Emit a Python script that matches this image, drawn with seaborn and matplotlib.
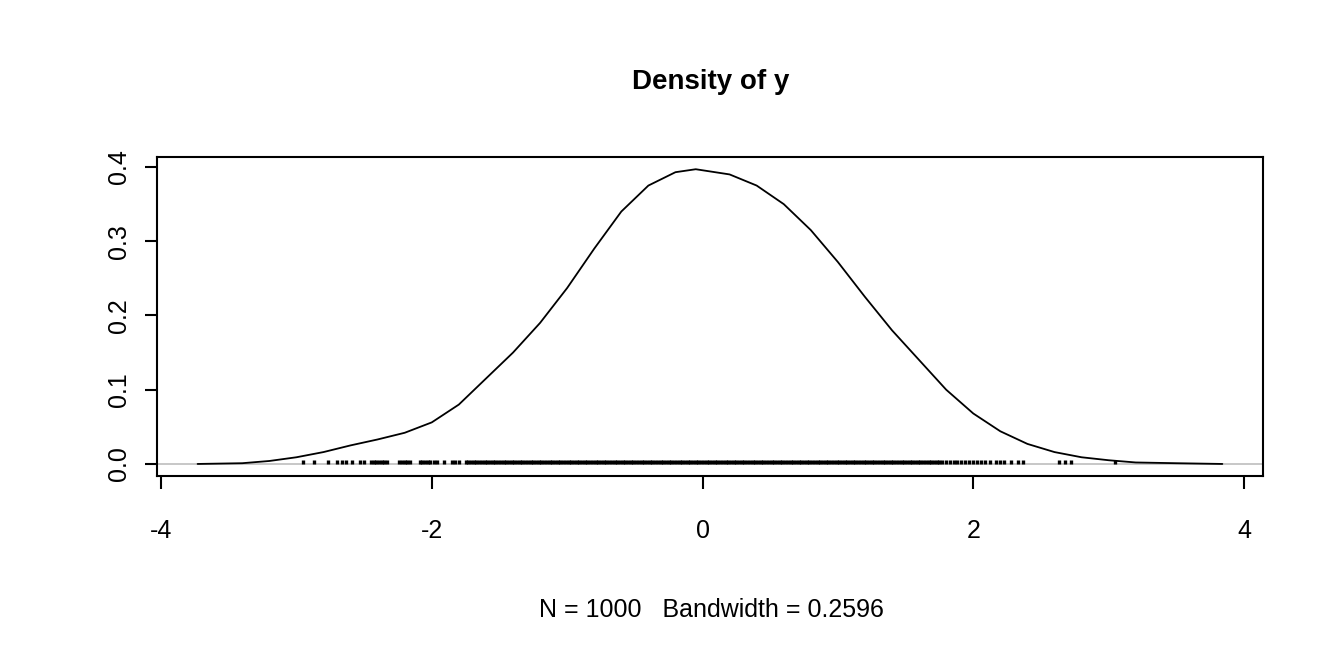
import numpy as np
import matplotlib
matplotlib.use("Agg")
from matplotlib import pyplot as plt
import seaborn as sns

# density curve
dens_x = [-3.73, -3.4, -3.2, -3.0, -2.8, -2.6, -2.4, -2.2, -2.0, -1.8, -1.6, -1.4,
          -1.2, -1.0, -0.8, -0.6, -0.4, -0.2, -0.05, 0.2, 0.4, 0.6, 0.8, 1.0, 1.2,
          1.4, 1.6, 1.8, 2.0, 2.2, 2.4, 2.6, 2.8, 3.0, 3.2, 3.5, 3.84]
dens_y = [0.0, 0.001, 0.004, 0.009, 0.016, 0.025, 0.033, 0.042, 0.056, 0.08, 0.115, 0.15,
          0.19, 0.237, 0.29, 0.34, 0.375, 0.393, 0.397, 0.39, 0.375, 0.35, 0.315, 0.272, 0.225,
          0.18, 0.14, 0.1, 0.068, 0.044, 0.027, 0.016, 0.009, 0.005, 0.002, 0.001, 0.0]

# rug positions (tails read individually, dense middle)
rug_left = [-2.95, -2.87, -2.77, -2.70, -2.66, -2.63, -2.59, -2.53, -2.50,
            -2.45, -2.43, -2.41, -2.39, -2.37, -2.35, -2.33, -2.24, -2.22, -2.20,
            -2.18, -2.16, -2.09, -2.07, -2.05, -2.03, -2.01, -1.98, -1.96, -1.91,
            -1.85, -1.83, -1.80, -1.75, -1.73, -1.71, -1.69, -1.67, -1.65, -1.63,
            -1.61, -1.59, -1.57, -1.55, -1.53, -1.51, -1.49]
rug_mid = [-1.47, -1.45, -1.43, -1.41, -1.39, -1.37, -1.35, -1.33, -1.31, -1.29,
           -1.27, -1.25, -1.23, -1.21, -1.19, -1.17, -1.15, -1.13, -1.11, -1.09,
           -1.07, -1.05, -1.03, -1.01, -0.99, -0.97, -0.95, -0.93, -0.91, -0.89,
           -0.87, -0.85, -0.83, -0.81, -0.79, -0.77, -0.75, -0.73, -0.71, -0.69,
           -0.67, -0.65, -0.63, -0.61, -0.59, -0.57, -0.55, -0.53, -0.51, -0.49,
           -0.47, -0.45, -0.43, -0.41, -0.39, -0.37, -0.35, -0.33, -0.31, -0.29,
           -0.27, -0.25, -0.23, -0.21, -0.19, -0.17, -0.15, -0.13, -0.11, -0.09,
           -0.07, -0.05, -0.03, -0.01, 0.01, 0.03, 0.05, 0.07, 0.09, 0.11,
           0.13, 0.15, 0.17, 0.19, 0.21, 0.23, 0.25, 0.27, 0.29, 0.31,
           0.33, 0.35, 0.37, 0.39, 0.41, 0.43, 0.45, 0.47, 0.49, 0.51,
           0.53, 0.55, 0.57, 0.59, 0.61, 0.63, 0.65, 0.67, 0.69, 0.71,
           0.73, 0.75, 0.77, 0.79, 0.81, 0.83, 0.85, 0.87, 0.89, 0.91,
           0.93, 0.95, 0.97, 0.99, 1.01, 1.03, 1.05, 1.07, 1.09, 1.11,
           1.13, 1.15, 1.17, 1.19, 1.21, 1.23, 1.25, 1.27, 1.29, 1.31,
           1.33, 1.35, 1.37, 1.39, 1.41, 1.43, 1.45, 1.47, 1.49, 1.51,
           1.53, 1.55, 1.57, 1.59, 1.61, 1.63, 1.65, 1.67, 1.69, 1.71,
           1.73, 1.75, 1.77]
rug_right = [1.80, 1.83, 1.86, 1.88, 1.91, 1.94, 1.97, 2.00, 2.03, 2.06, 2.09, 2.12,
             2.17, 2.20, 2.23, 2.28, 2.33, 2.37, 2.63, 2.68, 2.72, 3.05]
rug = rug_left + rug_mid + rug_right

sns.set_style("white")
plt.rcParams["font.family"] = ["Liberation Sans", "DejaVu Sans"]
plt.rcParams["text.color"] = "black"
plt.rcParams["xtick.color"] = "black"
plt.rcParams["ytick.color"] = "black"

fig = plt.figure(figsize=(13.44, 6.72), dpi=100)
ax = fig.add_axes([0.1168, 0.2917, 0.8229, 0.4747])

ax.axhline(0, color="#bebebe", lw=1.2, zorder=1)
sns.lineplot(x=dens_x, y=dens_y, ax=ax, color="black", lw=1.3, sort=False, zorder=3)
ax.vlines(rug, 0, 0.005, color="black", lw=2.4, zorder=2)

ax.set_xlim(-4.03, 4.14)
ax.set_ylim(-0.0162, 0.4135)
ax.set_xticks([-4, -2, 0, 2, 4])
ax.set_xticklabels(["-4", "-2", "0", "2", "4"])
ax.set_yticks([0.0, 0.1, 0.2, 0.3, 0.4])
ax.set_yticklabels(["0.0", "0.1", "0.2", "0.3", "0.4"], rotation=90, va="center")
ax.tick_params(axis="both", which="both", direction="out", length=9, width=1.5,
               labelsize=18, color="black", labelcolor="black", bottom=True, left=True)
ax.tick_params(axis="x", pad=22)
ax.tick_params(axis="y", pad=10)
for s in ax.spines.values():
    s.set_color("black")
    s.set_linewidth(1.5)

fig.text(0.529, 0.878, "Density of y", ha="center", va="center",
         fontsize=20, fontweight="bold")
fig.text(0.529, 0.092, "N = 1000   Bandwidth = 0.2596", ha="center", va="center",
         fontsize=18)

fig.savefig("out.png", dpi=100)
